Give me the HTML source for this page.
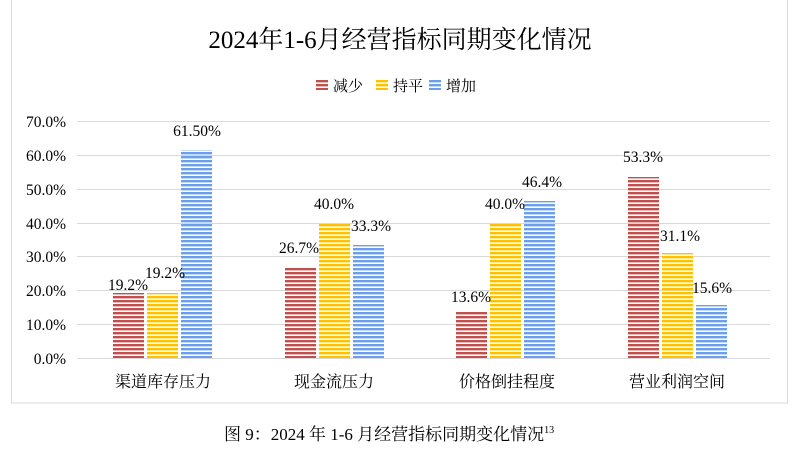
<!DOCTYPE html>
<html><head><meta charset="utf-8"><style>
body{margin:0;background:#fff;}
text{font-family:"Liberation Serif","Noto Serif CJK SC",serif;}
</style></head><body>
<svg width="800" height="447" viewBox="0 0 800 447" xmlns="http://www.w3.org/2000/svg">
<defs>
<pattern id="pr" width="8" height="4" patternUnits="userSpaceOnUse"><rect width="8" height="2.4" fill="#c0504d"/></pattern>
<pattern id="py" width="8" height="4" patternUnits="userSpaceOnUse"><rect width="8" height="2.4" fill="#ffc000"/></pattern>
<pattern id="pb" width="8" height="4" patternUnits="userSpaceOnUse"><rect width="8" height="2.4" fill="#6d9eeb"/></pattern>
</defs>
<rect x="11.5" y="-1" width="776" height="404" fill="none" stroke="#d9d9d9"/>
<text x="400" y="48" font-size="25" text-anchor="middle" fill="#000">2024年1-6月经营指标同期变化情况</text>
<rect x="316" y="80" width="12" height="10" fill="url(#pr)"/>
<text x="333" y="91" font-size="15">减少</text>
<rect x="376" y="80" width="12" height="10" fill="url(#py)"/>
<text x="393" y="91" font-size="15">持平</text>
<rect x="429" y="80" width="12" height="10" fill="url(#pb)"/>
<text x="446" y="91" font-size="15">增加</text>
<g stroke="#d9d9d9" stroke-width="1">
<line x1="77" x2="770" y1="121.5" y2="121.5"/><line x1="77" x2="770" y1="155.5" y2="155.5"/>
<line x1="77" x2="770" y1="189.5" y2="189.5"/><line x1="77" x2="770" y1="223.5" y2="223.5"/>
<line x1="77" x2="770" y1="256.5" y2="256.5"/><line x1="77" x2="770" y1="290.5" y2="290.5"/>
<line x1="77" x2="770" y1="324.5" y2="324.5"/><line x1="77" x2="770" y1="358.5" y2="358.5"/>
</g>
<g font-size="15.5" text-anchor="end" fill="#000">
<text x="66" y="127">70.0%</text><text x="66" y="161">60.0%</text><text x="66" y="195">50.0%</text>
<text x="66" y="229">40.0%</text><text x="66" y="262">30.0%</text><text x="66" y="296">20.0%</text>
<text x="66" y="330">10.0%</text><text x="66" y="364">0.0%</text>
</g>
<g font-size="15.5" text-anchor="middle" fill="#000">
<rect x="113" y="293" width="31" height="65" fill="url(#pr)"/>
<rect x="147" y="293" width="31" height="65" fill="url(#py)"/>
<rect x="181" y="150" width="31" height="208" fill="url(#pb)"/>
<text x="128" y="290">19.2%</text><text x="165" y="278">19.2%</text><text x="197" y="136">61.50%</text>
<text x="163" y="387" font-size="16">渠道库存压力</text>
<rect x="285" y="268" width="31" height="90" fill="url(#pr)"/>
<rect x="319" y="223" width="31" height="135" fill="url(#py)"/>
<rect x="353" y="245" width="31" height="113" fill="url(#pb)"/>
<text x="299" y="253">26.7%</text><text x="334" y="209">40.0%</text><text x="371" y="231">33.3%</text>
<text x="334" y="387" font-size="16">现金流压力</text>
<rect x="456" y="312" width="31" height="46" fill="url(#pr)"/>
<rect x="490" y="223" width="31" height="135" fill="url(#py)"/>
<rect x="524" y="201" width="31" height="157" fill="url(#pb)"/>
<text x="471" y="302">13.6%</text><text x="505" y="209">40.0%</text><text x="542" y="187">46.4%</text>
<text x="507" y="387" font-size="16">价格倒挂程度</text>
<rect x="628" y="177" width="31" height="181" fill="url(#pr)"/>
<rect x="662" y="253" width="31" height="105" fill="url(#py)"/>
<rect x="696" y="305" width="31" height="53" fill="url(#pb)"/>
<text x="643" y="162">53.3%</text><text x="680" y="241">31.1%</text><text x="712" y="293">15.6%</text>
<text x="677" y="387" font-size="16">营业利润空间</text>
</g>
<text x="224" y="440" font-size="17" fill="#000">图 9：2024 年 1-6 月经营指标同期变化情况<tspan font-size="10" dy="-7">13</tspan></text>
</svg>
</body></html>
